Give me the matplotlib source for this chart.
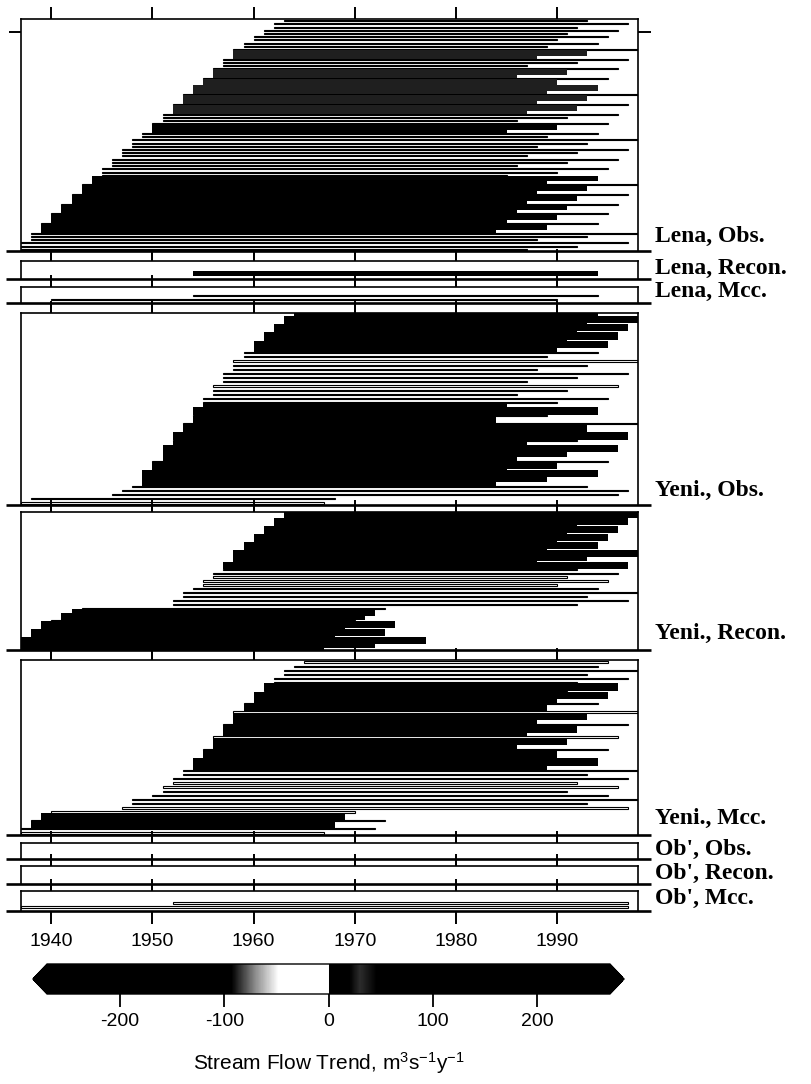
import numpy as np
import matplotlib.pyplot as plt
from matplotlib.colors import LinearSegmentedColormap, Normalize
from matplotlib.lines import Line2D

SANS = ['Liberation Sans Narrow', 'Liberation Sans', 'DejaVu Sans']
SERIF = ['Liberation Serif', 'DejaVu Serif']
plt.rcParams['font.family'] = SANS
plt.rcParams['mathtext.default'] = 'regular'
plt.rcParams['axes.unicode_minus'] = False

W, H = 811, 1084  # figure size in pixels

years = [1940, 1950, 1960, 1970, 1980, 1990]
year_span = (1937, 1998)
cbar_ticks = [-200, -100, 0, 100, 200]
cbar_range = (-270, 270)

# one row per trend period: (first year, last year, trend in m3/s/y), bottom to top
lena_obs = [
    (1937, 1987, -20), (1937, 1992, -20), (1937, 1997, -20),
    (1938, 1988, -20), (1938, 1993, -20), (1938, 1998, -20),
    (1939, 1984, 150), (1939, 1989, 150), (1939, 1994, -20),
    (1940, 1985, 150), (1940, 1990, 150), (1940, 1995, -20),
    (1941, 1986, 150), (1941, 1991, 150), (1941, 1996, -20),
    (1942, 1987, 150), (1942, 1992, 150), (1942, 1997, -20),
    (1943, 1988, 150), (1943, 1993, 150), (1943, 1998, -20),
    (1944, 1989, 150), (1944, 1994, 150),
    (1945, 1985, -20), (1945, 1990, -20), (1945, 1995, -20),
    (1946, 1986, -20), (1946, 1991, -20), (1946, 1996, -20),
    (1947, 1987, -20), (1947, 1992, -20), (1947, 1997, -20),
    (1948, 1988, -20), (1948, 1993, -20), (1948, 1998, -20),
    (1949, 1989, -20), (1949, 1994, -20),
    (1950, 1985, 150), (1950, 1990, 150), (1950, 1995, -20),
    (1951, 1986, -20), (1951, 1991, -20), (1951, 1996, -20),
    (1952, 1987, -88), (1952, 1992, -88), (1952, 1997, -20),
    (1953, 1988, -88), (1953, 1993, -88), (1953, 1998, -20),
    (1954, 1989, -88), (1954, 1994, -88),
    (1955, 1985, -88), (1955, 1990, -88), (1955, 1995, -20),
    (1956, 1986, -88), (1956, 1991, -88), (1956, 1996, -20),
    (1957, 1987, -20), (1957, 1992, -20), (1957, 1997, -20),
    (1958, 1988, -88), (1958, 1993, -88), (1958, 1998, -20),
    (1959, 1989, -20), (1959, 1994, -20),
    (1960, 1990, -20), (1960, 1995, -20),
    (1961, 1991, -20), (1961, 1996, -20),
    (1962, 1992, -20), (1962, 1997, -20),
    (1963, 1993, -20),
]
lena_recon = [(1954, 1994, 150)]
lena_mcc = [(1940, 1990, -20), (1954, 1994, -20)]

yeni_obs = [
    (1937, 1967, -20), (1938, 1968, -20),
    (1946, 1996, -20), (1947, 1997, -20), (1948, 1993, -20),
    (1949, 1984, 150), (1949, 1989, 150), (1949, 1994, 150),
    (1950, 1985, 150), (1950, 1990, 150), (1950, 1995, -20),
    (1951, 1986, 150), (1951, 1991, 150), (1951, 1996, 150),
    (1952, 1987, 150), (1952, 1992, -20), (1952, 1997, 150),
    (1953, 1988, 150), (1953, 1993, 150), (1953, 1998, -20),
    (1954, 1984, 150), (1954, 1989, -20), (1954, 1994, 150),
    (1955, 1985, 150), (1955, 1990, -20), (1955, 1995, -20),
    (1956, 1986, -20), (1956, 1991, -20), (1956, 1996, -20),
    (1957, 1987, -20), (1957, 1992, -20), (1957, 1997, -20),
    (1958, 1988, -20), (1958, 1993, -20), (1958, 1998, -20),
    (1959, 1989, -20), (1959, 1994, -20),
    (1960, 1990, 150), (1960, 1995, 150),
    (1961, 1991, 150), (1961, 1996, 150),
    (1962, 1992, 150), (1962, 1997, 150),
    (1963, 1993, 150), (1963, 1998, 150),
    (1964, 1994, 150),
]
yeni_recon = [
    (1937, 1967, 150), (1937, 1972, 150), (1937, 1977, 150),
    (1938, 1968, 150), (1938, 1973, 150),
    (1939, 1969, 150), (1939, 1974, 150),
    (1940, 1970, -20), (1941, 1971, 150), (1942, 1972, 150), (1943, 1973, -20),
    (1952, 1992, -20), (1952, 1997, -20),
    (1953, 1993, -20), (1953, 1998, -20),
    (1954, 1994, -20),
    (1955, 1990, -20), (1955, 1995, -20),
    (1956, 1991, -20), (1956, 1996, -20),
    (1957, 1992, -20), (1957, 1997, 150),
    (1958, 1988, 150), (1958, 1993, 150), (1958, 1998, 150),
    (1959, 1989, 150), (1959, 1994, 150),
    (1960, 1990, 150), (1960, 1995, 150),
    (1961, 1991, 150), (1961, 1996, 150),
    (1962, 1992, 150), (1962, 1997, 150),
    (1963, 1993, 150), (1963, 1998, 150),
]
yeni_mcc = [
    (1937, 1967, -20), (1937, 1972, -20),
    (1938, 1968, 150), (1938, 1973, -20),
    (1939, 1969, 150), (1940, 1970, -20),
    (1947, 1997, -20), (1948, 1993, -20), (1948, 1998, -20),
    (1950, 1995, -20), (1951, 1991, -20), (1951, 1996, -20),
    (1952, 1992, -20), (1952, 1997, -20),
    (1953, 1993, -20), (1953, 1998, -20),
    (1954, 1989, 150), (1954, 1994, 150),
    (1955, 1985, 150), (1955, 1990, 150), (1955, 1995, -20),
    (1956, 1986, 150), (1956, 1991, 150), (1956, 1996, -20),
    (1957, 1987, 150), (1957, 1992, 150), (1957, 1997, -20),
    (1958, 1988, 150), (1958, 1993, 150), (1958, 1998, -20),
    (1959, 1989, 150), (1959, 1994, -20),
    (1960, 1990, 150), (1960, 1995, 150),
    (1961, 1991, -20), (1961, 1996, 150),
    (1962, 1992, -20), (1962, 1997, -20),
    (1963, 1993, -20), (1963, 1998, -20),
    (1964, 1994, -20), (1965, 1995, -20),
]
ob_obs = []
ob_recon = []
ob_mcc = [(1937, 1997, -20), (1952, 1997, -20)]

panel_rows = [lena_obs, lena_recon, lena_mcc, yeni_obs, yeni_recon, yeni_mcc,
              ob_obs, ob_recon, ob_mcc]
panel_labels = ["Lena, Obs.", "Lena, Recon.", "Lena, Mcc.",
                "Yeni., Obs.", "Yeni., Recon.", "Yeni., Mcc.",
                "Ob', Obs.", "Ob', Recon.", "Ob', Mcc."]

# layout, in pixels from the top of the figure
panel_px = [(19, 251), (261, 279), (287, 303), (313, 505), (512, 650),
            (660, 835), (843, 859), (866, 884), (891, 911)]
panel_ylim = [None, (-1.5, 5), (-0.5, 4), None, None, None,
              (-0.5, 4), (-0.5, 4.5), (-0.5, 4.5)]
label_py = [236, 268, 291, 490, 633, 818, 849, 873, 898]
frame_left, frame_right = 21, 638

# grey scale used for the trend shading
stops = [(0.0, 'black'), (0.328, 'black'), (0.370, '#8c8c8c'), (0.411, 'white'),
         (0.4995, 'white'), (0.5005, 'black'), (0.538, 'black'), (0.556, '#2c2c2c'),
         (0.585, 'black'), (1.0, 'black')]
trend_cmap = LinearSegmentedColormap.from_list('trend', stops, N=1024)
trend_cmap.set_under('black')
trend_cmap.set_over('black')
norm = Normalize(*cbar_range)


def draw_rows(ax, rows):
    if not rows:
        return
    start, end, trend = (np.array(c, dtype=float) for c in zip(*rows))
    pos = np.arange(len(rows)) + 0.5
    colors = trend_cmap(norm(trend))
    light = colors[:, :3].mean(axis=1) > 0.5
    # weak trends: thin outlined rows; strong trends: heavy bars on top
    ax.barh(pos[light], (end - start)[light], left=start[light], height=0.3,
            color=colors[light], edgecolor='black', linewidth=0.8, zorder=1)
    ax.barh(pos[~light], (end - start)[~light], left=start[~light], height=1.8,
            color=colors[~light], edgecolor='none', linewidth=0, zorder=2)


fig = plt.figure(figsize=(W / 100, H / 100), dpi=100)

n_panels = len(panel_rows)
for i, (rows, (top, bot)) in enumerate(zip(panel_rows, panel_px)):
    ax = fig.add_axes([frame_left / W, 1 - bot / H,
                       (frame_right - frame_left) / W, (bot - top) / H])
    draw_rows(ax, rows)
    ax.set_xlim(*year_span)
    ax.set_ylim(panel_ylim[i] if panel_ylim[i] else (0, len(rows)))
    ax.set_xticks(years)
    last = i == n_panels - 1
    ax.tick_params(axis='x', direction='out', length=9, width=1.4,
                   top=True, bottom=True, labeltop=False, labelbottom=last,
                   labelsize=14, pad=7)
    if i == 0:
        ax.set_yticks([68])
        ax.tick_params(axis='y', direction='out', length=9, width=1.4,
                       left=True, right=True, labelleft=False)
    else:
        ax.set_yticks([])
    for side in ('left', 'right', 'top'):
        ax.spines[side].set_linewidth(1.2)
    ax.spines['bottom'].set_visible(False)
    ax.add_line(Line2D([-0.025, 1.021], [0, 0], transform=ax.transAxes,
                       color='black', lw=1.9, clip_on=False,
                       solid_capstyle='butt'))
    fig.text(655 / W, 1 - label_py[i] / H, panel_labels[i], ha='left',
             va='center', fontsize=17, fontweight='bold', family=SERIF)

cax = fig.add_axes([33 / W, 1 - 994 / H, 591 / W, 30 / H])
sm = plt.cm.ScalarMappable(norm=norm, cmap=trend_cmap)
cb = fig.colorbar(sm, cax=cax, orientation='horizontal', extend='both',
                  extendfrac=0.025, ticks=cbar_ticks)
cb.ax.tick_params(direction='out', length=9, width=1.3, labelsize=14, pad=5)
cb.outline.set_linewidth(1.0)
cb.set_label(r'Stream Flow Trend, m$^3$s$^{-1}$y$^{-1}$', fontsize=15,
             labelpad=14)

fig.savefig('out.png', dpi=100)
